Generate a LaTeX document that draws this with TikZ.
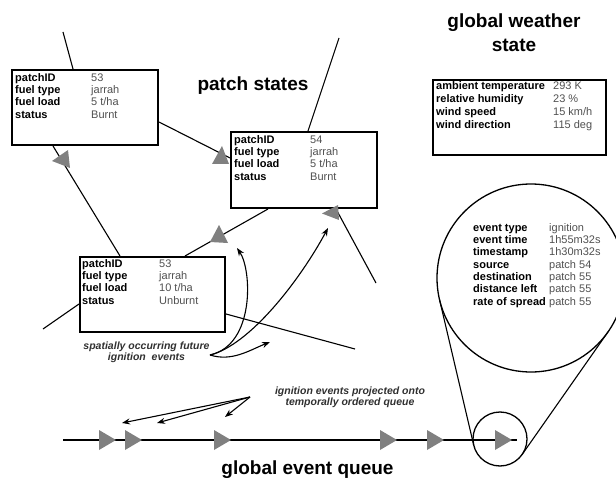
\documentclass[tikz,border=0pt]{standalone}
\usepackage{fontspec}
\setmainfont{Liberation Sans}
\usetikzlibrary{arrows.meta,calc}
\definecolor{trigray}{HTML}{808080}
\definecolor{valgray}{HTML}{505050}
\definecolor{notegray}{HTML}{303030}
\newcommand\prow[3]{\makebox[#1][l]{\bfseries #2}{\color{valgray}#3}\\}
\begin{document}
\begin{tikzpicture}[x=1pt,y=-1pt,
  pbox/.style={draw, line width=2pt, inner sep=0pt, anchor=north west},
  ptext/.style={anchor=north west, inner sep=0pt, align=left, font=\fontsize{11}{12.33}\selectfont},
  ttl/.style={font=\fontsize{19}{24}\selectfont\bfseries, align=center, inner sep=0pt},
  note/.style={font=\fontsize{10.5}{11.5}\selectfont\bfseries\itshape, text=notegray, align=center, inner sep=0pt},
  link/.style={line width=1.1pt},
  trif/.style={fill=trigray, draw=none},
  evarrow/.style={line width=1.1pt, -{Stealth[length=8pt,width=6pt]}},
  ring/.style={draw, circle, line width=1.3pt, inner sep=0pt}]
\useasboundingbox (0,0) rectangle (616,484);

% titles
\node[ttl] (tps) at (253,86) {patch states};
\node[ttl] (tgw) at (514,33) {global weather\\state};
\node[ttl] (tgq) at (307.5,470) {global event queue};

% patch boxes
\node[pbox, minimum width=146, minimum height=75] (b1) at (11,69) {};
\node[ptext] (t1) at (15,73) {\prow{76pt}{patchID}{53}\prow{76pt}{fuel type}{jarrah}\prow{76pt}{fuel load}{5 t/ha}\prow{76pt}{status}{Burnt}};
\node[pbox, minimum width=146, minimum height=76] (b2) at (230,131) {};
\node[ptext] (t2) at (234,135) {\prow{76pt}{patchID}{54}\prow{76pt}{fuel type}{jarrah}\prow{76pt}{fuel load}{5 t/ha}\prow{76pt}{status}{Burnt}};
\node[pbox, minimum width=145, minimum height=75] (b3) at (79,256) {};
\node[ptext] (t3) at (82,259) {\prow{77pt}{patchID}{53}\prow{77pt}{fuel type}{jarrah}\prow{77pt}{fuel load}{10 t/ha}\prow{77pt}{status}{Unburnt}};

% weather box
\node[pbox, minimum width=173, minimum height=75] (bw) at (432,79) {};
\node[ptext, font=\fontsize{11}{13}\selectfont] (tw) at (436,81) {\prow{117pt}{ambient temperature}{293 K}\prow{117pt}{relative humidity}{23 \%}\prow{117pt}{wind speed}{15 km/h}\prow{117pt}{wind direction}{115 deg}};

% links between patches
\coordinate (e1) at (63,32);
\coordinate (e4) at (339,38);
\coordinate (e6) at (376,283);
\coordinate (e7) at (43,329);
\coordinate (e8) at (355,349);
\draw[link] (e1) -- ($(b1.north west)+(62,0)$);
\draw[link] ($(b1.south west)+(42,0)$) -- ($(b3.north west)+(41,0)$);
\draw[link] ($(b1.north east)+(0,53)$) -- ($(b2.north west)+(0,27)$);
\draw[link] (e4) -- ($(b2.north west)+(78,0)$);
\draw[link] ($(b2.south west)+(38,0)$) -- ($(b3.north east)+(-41,0)$);
\draw[link] ($(b2.south west)+(106,0)$) -- (e6);
\draw[link] ($(b3.north west)+(0,48)$) -- (e7);
\draw[link] ($(b3.north east)+(0,58)$) -- (e8);

% gray triangles on links
\path[trif] (68,150) -- (52,161) -- (70,168) -- cycle;
\path[trif] (212,164) -- (222,146) -- (229,164) -- cycle;
\path[trif] (219,225) -- (210,242) -- (228,243) -- cycle;
\path[trif] (322,213.5) -- (338,205) -- (339,220) -- cycle;

% spatial events
\node[note] (nsp) at (146.5,352.5) {spatially occurring future\\ignition\ \ events};
\coordinate (cs) at (210,355);
\coordinate (ce1) at (237,248);
\coordinate (ce2) at (328,228);
\coordinate (ce3) at (270,342);
\draw[evarrow] (cs) .. controls (255,345) and (252,270) .. (ce1);
\draw[evarrow] (cs) .. controls (250,345) and (300,280) .. (ce2);
\draw[evarrow] (cs) .. controls (232,362) and (250,350) .. (ce3);

% queue
\coordinate (qs) at (63,440);
\coordinate (qe) at (517,440);
\draw[link] (qs) -- (qe);
\foreach \x in {99,125,214,380,427,495}
  \path[trif] (\x,430) -- (\x+17,440) -- (\x,450) -- cycle;

\node[note] (nq) at (350,397.5) {ignition events projected onto\\temporally ordered queue};
\coordinate (qa) at (250,397);
\coordinate (qa1) at (122,423);
\coordinate (qa2) at (157,423);
\coordinate (qa3) at (225,417);
\draw[evarrow] (qa) -- (qa1);
\draw[evarrow] (qa) -- (qa2);
\draw[evarrow] (qa) -- (qa3);

% magnifier
\node[ring, minimum size=54] (sc) at (500,439) {};
\node[ring, minimum size=188] (bc) at (531,278) {};
\draw[link] ($(bc.center)+(35.0:94)$) -- ($(sc.center)+(35.0:27)$);
\draw[link] ($(bc.center)+(166.8:94)$) -- ($(sc.center)+(166.8:27)$);
\node[ptext] (tev) at (473,223) {\prow{76pt}{event type}{ignition}\prow{76pt}{event time}{1h55m32s}\prow{76pt}{timestamp}{1h30m32s}\prow{76pt}{source}{patch 54}\prow{76pt}{destination}{patch 55}\prow{76pt}{distance left}{patch 55}\prow{76pt}{rate of spread}{patch 55}};
\end{tikzpicture}
\end{document}
